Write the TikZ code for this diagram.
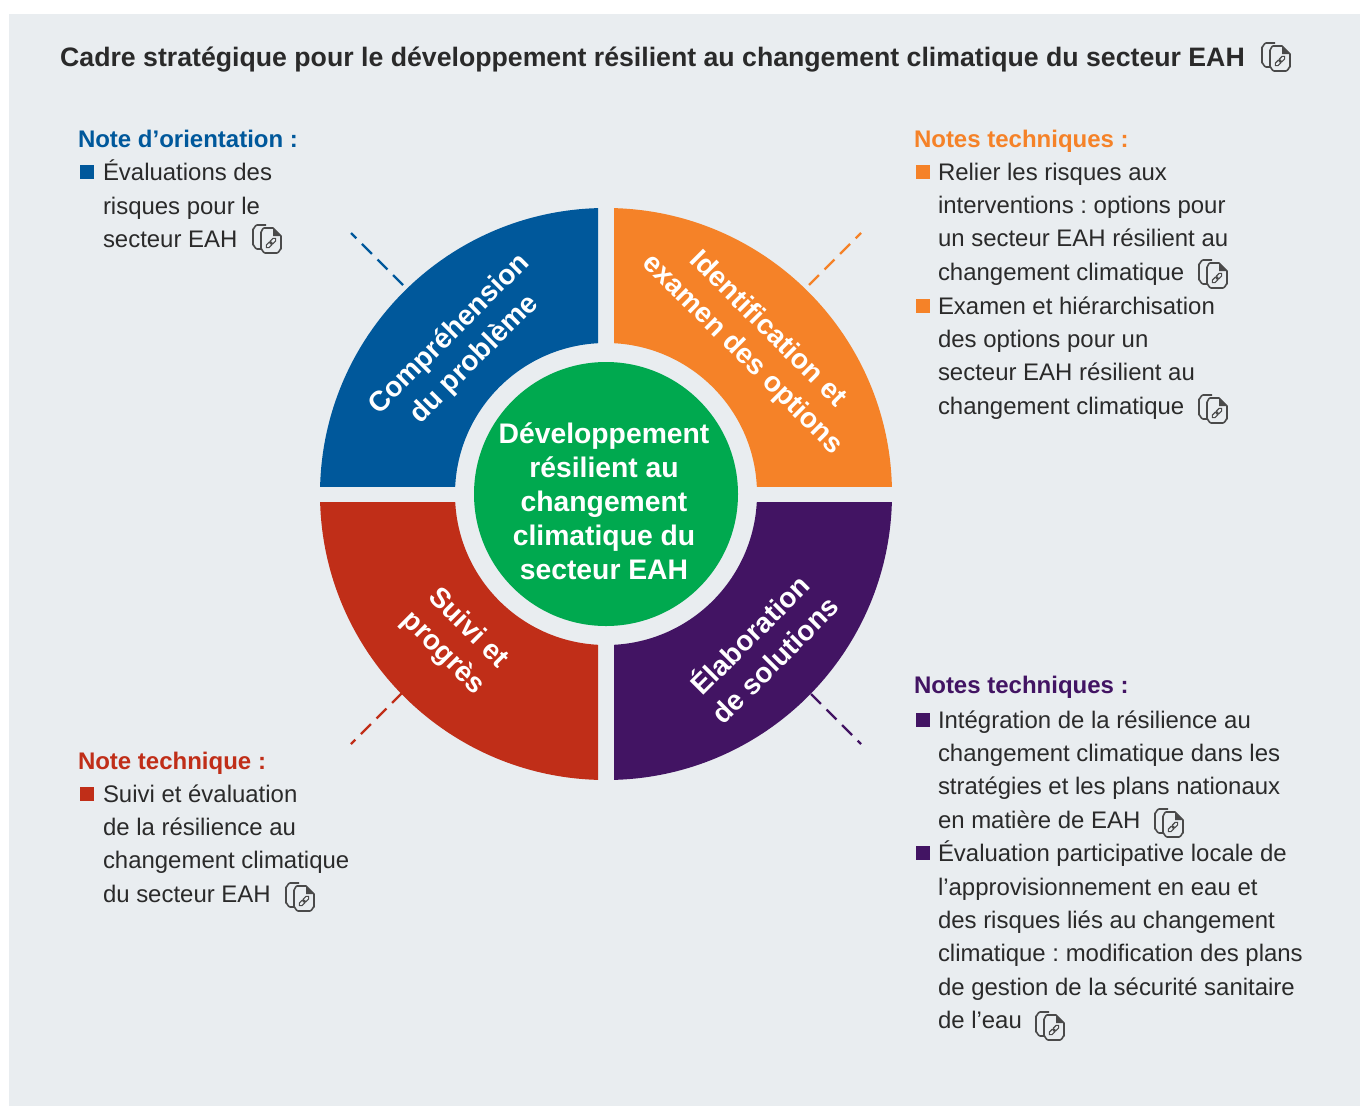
\documentclass[tikz,border=0pt]{standalone}
\usepackage{fontspec}
\setmainfont{Liberation Sans}
\frenchspacing
\definecolor{bgc}{HTML}{E9EDF0}
\definecolor{cblue}{HTML}{00589B}
\definecolor{corange}{HTML}{F58228}
\definecolor{cred}{HTML}{C02E18}
\definecolor{cpurple}{HTML}{421463}
\definecolor{cgreen}{HTML}{00A94F}
\definecolor{ctext}{HTML}{2A2A2A}
\newcommand{\bodysize}{\fontsize{23.95}{33.4}\selectfont}
\newcommand{\headsize}{\fontsize{24}{33.4}\selectfont\bfseries}
\newcommand{\fl}{\rule{0pt}{20pt}}
\tikzset{
  x=1pt,y=-1pt,
  body/.style={anchor=north west,inner sep=0pt,outer sep=0pt,align=left,text=ctext,font=\bodysize},
  heading/.style={anchor=base west,inner sep=0pt,outer sep=0pt,font=\headsize},
  wedgelabel/.style={inner sep=0pt,outer sep=0pt,align=center,text=white,font=\fontsize{28.1}{35.4}\selectfont\bfseries},
  bullet/.style={inner sep=0pt,outer sep=0pt,minimum size=14pt,anchor=north west},
  leader/.style={line width=2.3pt,dash pattern=on 14pt off 8pt},
  docicon/.pic={
    \draw[line width=1.6pt,ctext!85!white,line join=round]
      (14,1) -- (5,1) to[out=180,in=-90] (1,5) -- (1,21) to[out=90,in=180] (5,25) -- (9,25);
    \draw[line width=1.6pt,ctext!85!white,line join=round,fill=bgc]
      (12,4) -- (21,4) -- (29,12) -- (29,25) to[out=90,in=0] (25,29) -- (13,29) to[out=180,in=90] (9,25) -- (9,8) to[out=-90,in=180] (12,4) -- cycle;
    \fill[ctext!85!white] (21,4) -- (21,12) -- (29,12) -- cycle;
    \draw[line width=1.1pt,ctext!85!white,rounded corners=1.8pt,rotate around={45:(19,19)}]
      (12.5,17.2) rectangle (20,20.8) (18,17.2) rectangle (25.5,20.8);
  }
}
\begin{document}
\begin{tikzpicture}
\useasboundingbox (0,0) rectangle (1360,1106);
\fill[white] (0,0) rectangle (1360,1106);
\fill[bgc] (9,14) rectangle (1360,1106);
% ring quadrants
\foreach \xa/\ya/\xb/\yb/\c in {320/208/598/486/cblue,614/208/892/486/corange,320/502/598/780/cred,614/502/892/780/cpurple}{
  \begin{scope}
    \clip (\xa,\ya) rectangle (\xb,\yb);
    \fill[\c,even odd rule] (606,494) circle[radius=286pt] (606,494) circle[radius=151pt];
  \end{scope}
}
% centre
\node[circle,fill=cgreen,minimum size=264pt,inner sep=0pt] (hub) at (606,494) {};
\node[inner sep=0pt,align=center,text=white,font=\fontsize{28.3}{34}\selectfont\bfseries,anchor=center] (hubtext) at (604,501)
  {Développement\\résilient au\\changement\\climatique du\\secteur EAH};
% wedge labels
\node[wedgelabel,rotate=45] (wblue) at (462,347) {Compréhension\\du problème};
\node[wedgelabel,rotate=-45] (worange) at (755,342) {Identification et\\examen des options};
\node[wedgelabel,rotate=45] (wpurple) at (761,646) {Élaboration\\de solutions};
\node[wedgelabel,rotate=-45] (wred) at (455.5,641) {Suivi et\\progrès};
% leaders
\coordinate (l1a) at (351,233); \coordinate (l1b) at (403,285);
\coordinate (l2a) at (861,233); \coordinate (l2b) at (809,285);
\coordinate (l3a) at (351,744); \coordinate (l3b) at (402,693);
\coordinate (l4a) at (861,744); \coordinate (l4b) at (811,694);
\draw[leader,cblue] (l1b) -- (l1a);
\draw[leader,corange] (l2b) -- (l2a);
\draw[leader,cred] (l3b) -- (l3a);
\draw[leader,cpurple] (l4b) -- (l4a);
% title
\node[anchor=base west,inner sep=0pt,text=ctext,font=\fontsize{26.68}{33}\selectfont\bfseries] (title) at (60,66)
  {Cadre stratégique pour le développement résilient au changement climatique du secteur EAH};
\pic at (1261,42) {docicon};
% blue block
\node[heading,text=cblue] (h1) at (78,147) {Note d’orientation :};
\node[bullet,fill=cblue] (b1) at (80,165) {};
\node[body] (t1) at (103,160) {\fl Évaluations des\\risques pour le\\secteur EAH};
\pic at (252,224) {docicon};
% orange block
\node[heading,text=corange] (h2) at (914,147) {Notes techniques :};
\node[bullet,fill=corange] (b2) at (916,165) {};
\node[body] (t2) at (938,160) {\fl Relier les risques aux\\interventions : options pour\\un secteur EAH résilient au\\changement climatique};
\pic at (1198,259) {docicon};
\node[bullet,fill=corange] (b3) at (916,299) {};
\node[body] (t3) at (938,294) {\fl Examen et hiérarchisation\\des options pour un\\secteur EAH résilient au\\changement climatique};
\pic at (1198,394) {docicon};
% red block
\node[heading,text=cred] (h3) at (78,769) {Note technique :};
\node[bullet,fill=cred] (b4) at (80,787) {};
\node[body] (t4) at (103,782) {\fl Suivi et évaluation\\de la résilience au\\changement climatique\\du secteur EAH};
\pic at (285,882) {docicon};
% purple block
\node[heading,text=cpurple] (h4) at (914,693) {Notes techniques :};
\node[bullet,fill=cpurple] (b5) at (916,713) {};
\node[body] (t5) at (938,708) {\fl Intégration de la résilience au\\changement climatique dans les\\stratégies et les plans nationaux\\en matière de EAH};
\pic at (1154,808) {docicon};
\node[bullet,fill=cpurple] (b6) at (916,846) {};
\node[body] (t6) at (938,841) {\fl Évaluation participative locale de\\l’approvisionnement en eau et\\des risques liés au changement\\climatique : modification des plans\\de gestion de la sécurité sanitaire\\de l’eau};
\pic at (1035,1011) {docicon};
\end{tikzpicture}
\end{document}
